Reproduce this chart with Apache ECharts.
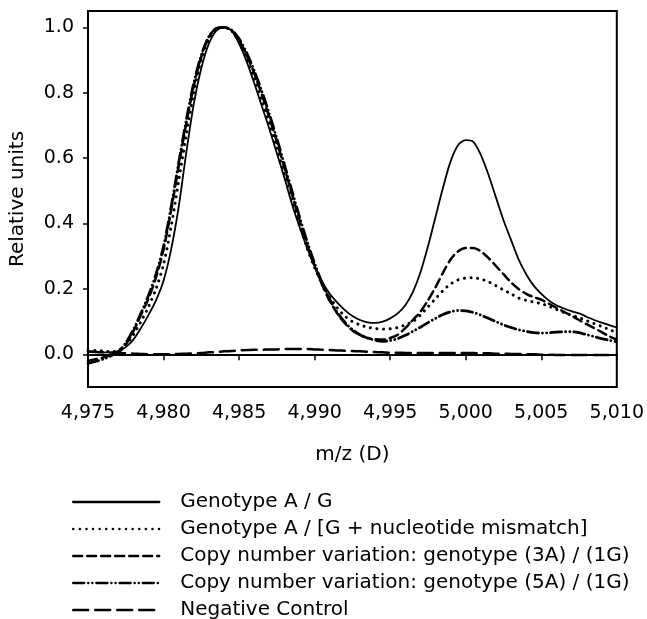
<!DOCTYPE html>
<html>
<head>
<meta charset="utf-8">
<script src="https://cdn.jsdelivr.net/npm/echarts@6/dist/echarts.min.js"></script>
<style>
  html, body { margin: 0; padding: 0; background: #fff; }
  #chart { width: 647px; height: 619px; }
</style>
</head>
<body>
<div id="chart"></div>
<script>
// m/z positions, 4975 .. 5010 every 0.5 D
const mz = [
  4975, 4975.5, 4976, 4976.5, 4977, 4977.5, 4978, 4978.5, 4979, 4979.5,
  4980, 4980.5, 4981, 4981.5, 4982, 4982.5, 4983, 4983.5, 4984, 4984.5,
  4985, 4985.5, 4986, 4986.5, 4987, 4987.5, 4988, 4988.5, 4989, 4989.5,
  4990, 4990.5, 4991, 4991.5, 4992, 4992.5, 4993, 4993.5, 4994, 4994.5,
  4995, 4995.5, 4996, 4996.5, 4997, 4997.5, 4998, 4998.5, 4999, 4999.5,
  5000, 5000.5, 5001, 5001.5, 5002, 5002.5, 5003, 5003.5, 5004, 5004.5,
  5005, 5005.5, 5006, 5006.5, 5007, 5007.5, 5008, 5008.5, 5009, 5009.5,
  5010
]

const genotypeAG = [
  0.010, 0.008, 0.006, 0.006, 0.010, 0.022, 0.045, 0.080, 0.120, 0.165,
  0.225, 0.320, 0.450, 0.615, 0.765, 0.875, 0.950, 0.990, 1.000, 0.990,
  0.950, 0.895, 0.830, 0.760, 0.690, 0.615, 0.540, 0.460, 0.390, 0.325,
  0.270, 0.222, 0.185, 0.158, 0.135, 0.117, 0.105, 0.098, 0.096, 0.100,
  0.110, 0.125, 0.150, 0.190, 0.250, 0.330, 0.420, 0.510, 0.590, 0.640,
  0.655, 0.650, 0.610, 0.550, 0.480, 0.410, 0.350, 0.290, 0.245, 0.210,
  0.185, 0.165, 0.150, 0.140, 0.132, 0.125, 0.115, 0.105, 0.097, 0.089,
  0.082
]

const genotypeMismatch = [
  0.012, 0.012, 0.010, 0.008, 0.012, 0.030, 0.060, 0.100, 0.145, 0.200,
  0.275, 0.390, 0.530, 0.670, 0.800, 0.900, 0.965, 0.995, 1.000, 0.990,
  0.955, 0.905, 0.845, 0.775, 0.705, 0.630, 0.550, 0.470, 0.395, 0.325,
  0.265, 0.215, 0.175, 0.142, 0.117, 0.100, 0.090, 0.083, 0.079, 0.077,
  0.078, 0.082, 0.090, 0.100, 0.120, 0.145, 0.170, 0.195, 0.215, 0.228,
  0.233, 0.234, 0.230, 0.222, 0.210, 0.197, 0.185, 0.172, 0.165, 0.160,
  0.155, 0.147, 0.137, 0.128, 0.120, 0.112, 0.103, 0.094, 0.085, 0.076,
  0.066
]

const copy3A1G = [
  -0.020, -0.015, -0.010, -0.003, 0.005, 0.030, 0.070, 0.120, 0.170, 0.235,
  0.320, 0.440, 0.575, 0.705, 0.820, 0.910, 0.970, 0.997, 1.000, 0.990,
  0.960, 0.915, 0.860, 0.795, 0.725, 0.650, 0.570, 0.490, 0.410, 0.335,
  0.270, 0.212, 0.163, 0.125, 0.095, 0.073, 0.059, 0.050, 0.046, 0.045,
  0.050, 0.060, 0.080, 0.105, 0.130, 0.165, 0.205, 0.250, 0.290, 0.315,
  0.325, 0.325, 0.315, 0.295, 0.270, 0.245, 0.220, 0.200, 0.185, 0.175,
  0.167, 0.155, 0.142, 0.130, 0.118, 0.105, 0.092, 0.080, 0.068, 0.055,
  0.045
]

const copy5A1G = [
  -0.028, -0.022, -0.015, -0.005, 0.008, 0.035, 0.075, 0.125, 0.180, 0.245,
  0.330, 0.450, 0.585, 0.715, 0.830, 0.915, 0.972, 0.997, 1.000, 0.992,
  0.965, 0.922, 0.868, 0.805, 0.735, 0.660, 0.580, 0.500, 0.420, 0.345,
  0.278, 0.218, 0.168, 0.128, 0.098, 0.076, 0.060, 0.050, 0.043, 0.040,
  0.042, 0.048, 0.058, 0.070, 0.083, 0.097, 0.110, 0.122, 0.130, 0.134,
  0.133, 0.128, 0.120, 0.110, 0.100, 0.090, 0.082, 0.075, 0.070, 0.066,
  0.065, 0.066, 0.068, 0.069, 0.069, 0.066, 0.060, 0.054, 0.048, 0.043,
  0.038
]

const negativeControl = [
  0.008, 0.007, 0.006, 0.005, 0.004, 0.003, 0.002, 0.001, 0.000, 0.000,
  0.000, 0.000, 0.001, 0.002, 0.003, 0.004, 0.006, 0.007, 0.009, 0.010,
  0.012, 0.013, 0.014, 0.014, 0.015, 0.015, 0.016, 0.016, 0.016, 0.016,
  0.015, 0.014, 0.013, 0.012, 0.011, 0.010, 0.009, 0.008, 0.007, 0.006,
  0.005, 0.005, 0.004, 0.004, 0.004, 0.004, 0.004, 0.004, 0.004, 0.004,
  0.004, 0.004, 0.003, 0.003, 0.002, 0.002, 0.001, 0.001, 0.000, 0.000,
  -0.001, -0.001, -0.002, -0.002, -0.002, -0.002, -0.002, -0.002, -0.002, -0.002,
  -0.002
]

const yTicks = [0, 0.2, 0.4, 0.6, 0.8, 1.0]

const seriesNames = [
  'Genotype A / G',
  'Genotype A / [G + nucleotide mismatch]',
  'Copy number variation: genotype (3A) / (1G)',
  'Copy number variation: genotype (5A) / (1G)',
  'Negative Control'
]

const FONT = 'DejaVu Sans'

const pair = vals => mz.map((x, i) => [x, vals[i]])

const line = (name, vals, width, dash) => ({
  name,
  type: 'line',
  data: pair(vals),
  smooth: 0.3,
  symbol: 'none',
  lineStyle: { color: '#000', width, type: dash, cap: 'round' },
  itemStyle: { color: '#000' },
  z: 3
})

const chart = echarts.init(document.getElementById('chart'), null, { renderer: 'canvas' })

chart.setOption({
  animation: false,
  backgroundColor: '#fff',
  grid: {
    left: 86, right: 26, top: 11, bottom: 232,
    show: true, borderColor: '#000', borderWidth: 2
  },
  xAxis: {
    type: 'value',
    min: 4975, max: 5010, interval: 5,
    name: 'm/z (D)',
    nameLocation: 'middle',
    nameGap: 58,
    nameTextStyle: { fontFamily: FONT, fontSize: 20, color: '#000' },
    axisLine: { lineStyle: { color: '#000', width: 2 } },
    axisTick: { length: 6, lineStyle: { color: '#000', width: 1.5 } },
    axisLabel: {
      fontFamily: FONT, fontSize: 19, color: '#000', margin: 17,
      formatter: v => v.toLocaleString('en-US')
    },
    splitLine: { show: false }
  },
  yAxis: {
    type: 'value',
    min: -0.1, max: 1.05,
    name: 'Relative units',
    nameLocation: 'middle',
    nameGap: 60,
    nameTextStyle: { fontFamily: FONT, fontSize: 20, color: '#000' },
    axisLine: { show: true, lineStyle: { color: '#000', width: 2 } },
    axisTick: { show: true, length: 5, customValues: yTicks, lineStyle: { color: '#000', width: 1.5 } },
    axisLabel: {
      fontFamily: FONT, fontSize: 19, color: '#000', margin: 14,
      customValues: yTicks,
      formatter: v => v.toFixed(1)
    },
    splitLine: { show: false }
  },
  legend: {
    show: true,
    orient: 'vertical',
    left: 67, top: 487, height: 160,
    itemWidth: 86, itemHeight: 14, itemGap: 7,
    itemStyle: { opacity: 0, borderWidth: 0 },
    lineStyle: { width: 2.4 },
    textStyle: { fontFamily: FONT, fontSize: 20, color: '#000', lineHeight: 20, padding: [0, 0, 0, 16] },
    data: seriesNames
  },
  series: [
    line(seriesNames[0], genotypeAG, 1.8, 'solid'),
    line(seriesNames[1], genotypeMismatch, 3, [0.1, 6.5]),
    line(seriesNames[2], copy3A1G, 2.5, [9, 5]),
    line(seriesNames[3], copy5A1G, 2.8, [11, 4, 0.1, 4, 0.1, 4]),
    line(seriesNames[4], negativeControl, 2.5, [15, 7])
  ]
})
</script>
</body>
</html>
